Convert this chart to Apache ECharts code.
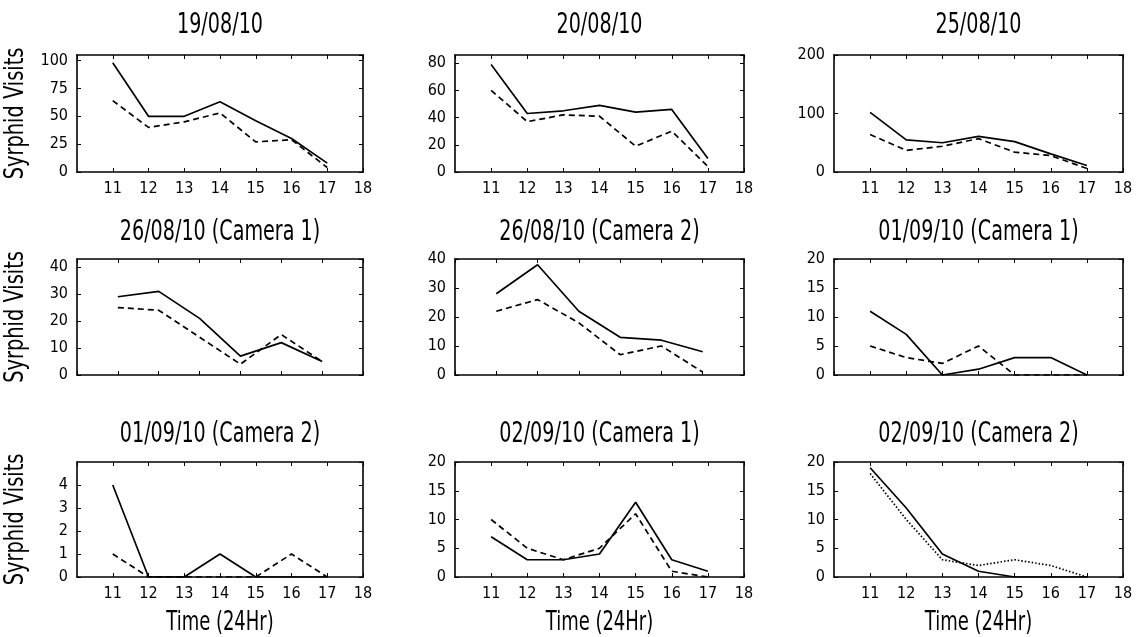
<!DOCTYPE html>
<html>
<head>
<meta charset="utf-8">
<script src="https://cdn.jsdelivr.net/npm/echarts@6/dist/echarts.min.js"></script>
<style>
html,body{margin:0;padding:0;background:#fff;}
#c{width:1138px;height:637px;}
</style>
</head>
<body>
<div id="c"></div>
<script>
// ---- data ----
const titles = ["19/08/10","20/08/10","25/08/10","26/08/10 (Camera 1)","26/08/10 (Camera 2)","01/09/10 (Camera 1)","01/09/10 (Camera 2)","02/09/10 (Camera 1)","02/09/10 (Camera 2)"];
const hours7 = [11,12,13,14,15,16,17];
const hours6 = [11,12,13,14,15,16];
const yAxisName = "Syrphid Visits";
const xAxisName = "Time (24Hr)";

const p1Solid = [98,50,50,63,46,30,8];
const p1Dash  = [64,40,45,53,27,29,4];
const p2Solid = [79,43,45,49,44,46,10];
const p2Dash  = [60,37,42,41,19,30,4];
const p3Solid = [102,55,50,61,52,31,11];
const p3Dash  = [64,37,44,57,34,28,6];
const p4Solid = [29,31,21,7,12,5];
const p4Dash  = [25,24,14,4,15,5];
const p5Solid = [28,38,22,13,12,8];
const p5Dash  = [22,26,18,7,10,1];
const p6Solid = [11,7,0,1,3,3,0];
const p6Dash  = [5,3,2,5,0,0,0];
const p7Solid = [4,0,0,1,0,0,0];
const p7Dash  = [1,0,0,0,0,1,0];
const p8Solid = [7,3,3,4,13,3,1];
const p8Dash  = [10,5,3,5,11,1,0];
const p9Solid = [19,12,4,1,0,0,0];
const p9Dot   = [18,10,3,2,3,2,0];

// axis ranges per panel
const yMaxes     = [105, 86, 200, 43, 40, 20, 5, 20, 20];
const yIntervals = [25, 20, 100, 10, 10, 5, 1, 5, 5];
const showYMax   = [false,false,true,false,true,true,false,true,true];
const xMaxes     = [18, 18, 18, 17, 17, 18, 18, 18, 18];

const panelSeries = [
  [[hours7,p1Solid,'solid'],[hours7,p1Dash,'dash']],
  [[hours7,p2Solid,'solid'],[hours7,p2Dash,'dash']],
  [[hours7,p3Solid,'solid'],[hours7,p3Dash,'dash']],
  [[hours6,p4Solid,'solid'],[hours6,p4Dash,'dash']],
  [[hours6,p5Solid,'solid'],[hours6,p5Dash,'dash']],
  [[hours7,p6Solid,'solid'],[hours7,p6Dash,'dash']],
  [[hours7,p7Solid,'solid'],[hours7,p7Dash,'dash']],
  [[hours7,p8Solid,'solid'],[hours7,p8Dash,'dash']],
  [[hours7,p9Solid,'solid'],[hours7,p9Dot,'dot']]
];

// ---- layout ----
const FONT = '"DejaVu Sans Condensed","Liberation Sans Narrow","Liberation Sans",sans-serif';
const cols = [[77,363],[455,744],[834,1123]];
const rows = [[55,172],[259,375],[462,577]];
const titleMids = [26,233,435];

const grids=[], xAxes=[], yAxes=[], series=[], graphics=[];
for (let i=0;i<9;i++){
  const r = Math.floor(i/3), c = i%3;
  const [l,rt] = cols[c], [t,b] = rows[r];
  grids.push({left:l, top:t, width:rt-l, height:b-t, containLabel:false});
  graphics.push({type:'text', x:(l+rt)/2, y:titleMids[r], scaleX:0.76, silent:true,
    style:{text:titles[i], fill:'#000', fontFamily:FONT, fontSize:28, align:'center', verticalAlign:'middle'}});
  if (c===0) {
    graphics.push({type:'text', x:16, y:(t+b)/2, rotation:Math.PI/2, scaleX:0.83, silent:true,
      style:{text:yAxisName, fill:'#000', fontFamily:FONT, fontSize:26, align:'center', verticalAlign:'middle'}});
  }
  if (r===2) {
    graphics.push({type:'text', x:(l+rt)/2, y:623, scaleX:0.74, silent:true,
      style:{text:xAxisName, fill:'#000', fontFamily:FONT, fontSize:27, align:'center', verticalAlign:'middle'}});
  }
  const tickS = {show:true, inside:true, length:4, lineStyle:{color:'#000', width:1}};
  const xBase = {type:'value', gridIndex:i, min:10, max:xMaxes[i], interval:1,
    axisLine:{show:true, onZero:false, lineStyle:{color:'#000', width:1.6}},
    axisTick:tickS, splitLine:{show:false}};
  xAxes.push(Object.assign({}, xBase, {position:'bottom',
    axisLabel:{show:r!==1, showMinLabel:false, margin:9, color:'#000', fontFamily:FONT, fontSize:16}}));
  xAxes.push(Object.assign({}, xBase, {position:'top', axisLabel:{show:false}}));
  const yBase = {type:'value', gridIndex:i, min:0, max:yMaxes[i], interval:yIntervals[i],
    axisLine:{show:true, onZero:false, lineStyle:{color:'#000', width:1.6}},
    axisTick:tickS, splitLine:{show:false}};
  yAxes.push(Object.assign({}, yBase, {position:'left',
    axisLabel:{show:true, showMaxLabel:showYMax[i], margin:9, color:'#000', fontFamily:FONT, fontSize:16}}));
  yAxes.push(Object.assign({}, yBase, {position:'right', axisLabel:{show:false}}));
  panelSeries[i].forEach(([xs,ys,style])=>{
    const ls = {color:'#000', width:1.7};
    if (style==='dash') ls.type=[6,4];
    if (style==='dot') ls.type=[1.5,2];
    series.push({type:'line', xAxisIndex:2*i, yAxisIndex:2*i, symbol:'none',
      data: xs.map((x,k)=>[x,ys[k]]), lineStyle:ls, itemStyle:{color:'#000'}, animation:false, silent:true});
  });
}

const chart = echarts.init(document.getElementById('c'), null, {renderer:'canvas'});
chart.setOption({
  backgroundColor:'#fff',
  animation:false,
  grid:grids,
  xAxis:xAxes,
  yAxis:yAxes,
  series:series,
  graphic:graphics
});
</script>
</body>
</html>
